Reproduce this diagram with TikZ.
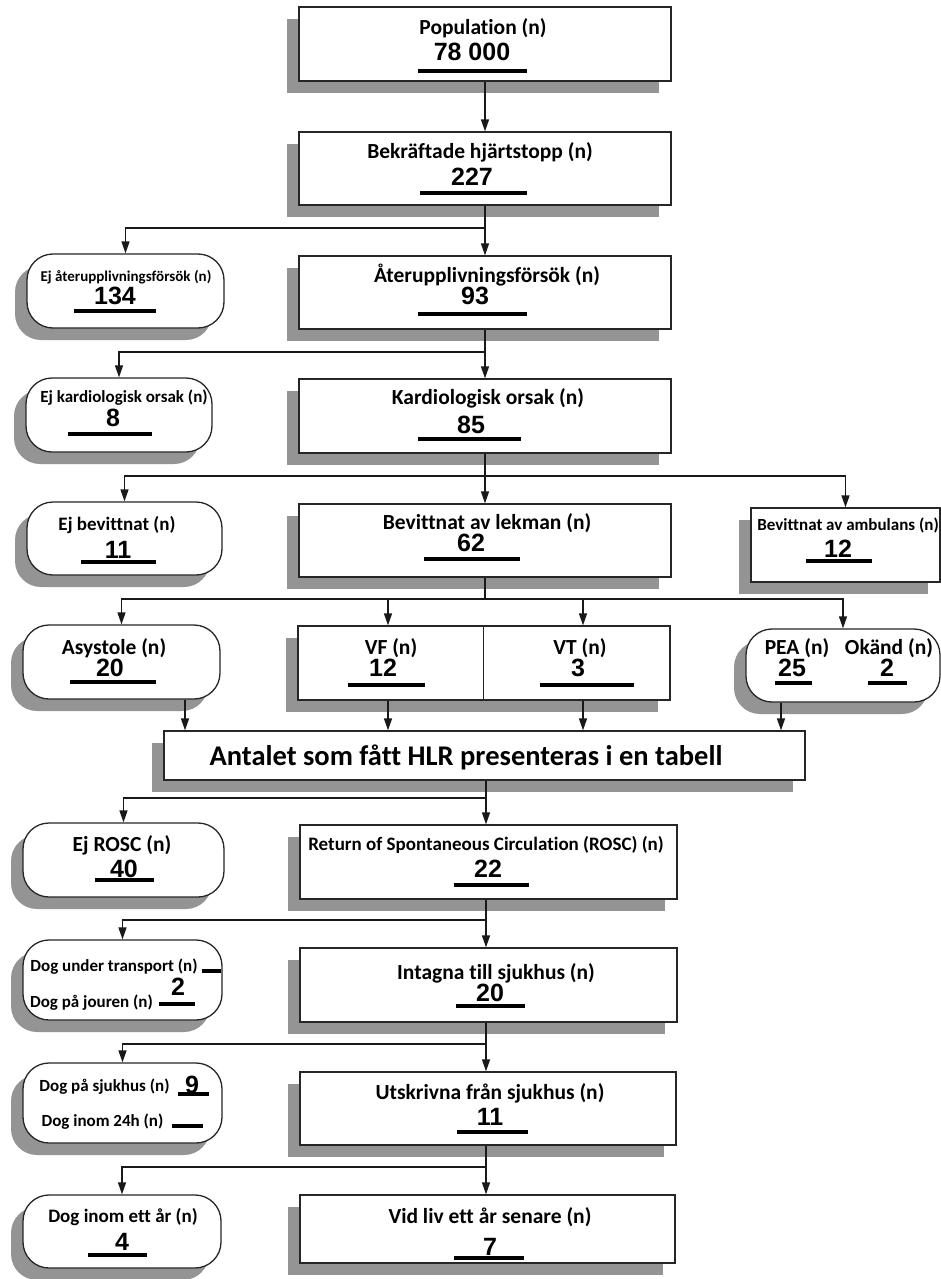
\documentclass[tikz,border=0pt]{standalone}
\usepackage{fontspec}
\setmainfont{Carlito}[Ligatures=NoCommon]
\newfontfamily\numfont{Liberation Sans}
\usetikzlibrary{arrows.meta,shadows}
\begin{document}
\begin{tikzpicture}[x=1pt,y=-1pt,
  shadowed/.style={drop shadow={shadow xshift=-12pt,shadow yshift=-12pt,fill=black!42,opacity=1}},
  sbox/.style={draw=black!85,line width=1.3pt,fill=white,shadowed,inner sep=0pt},
  rbox/.style={sbox,rounded corners=26pt},
  lab/.style={font=\fontsize{#1}{#1}\selectfont\bfseries,inner sep=0pt,text=black},
  lab/.default=21.5,
  num/.style={font=\numfont\fontsize{25}{25}\selectfont\bfseries,inner sep=0pt},
  uline/.style={line width=3.5pt},
  conn/.style={line width=1.4pt,black!90},
  arr/.style={conn,-{Triangle[length=12pt,width=8pt]}}
]
\fill[white] (0,0) rectangle (941,1279);
\useasboundingbox (0,0) rectangle (941,1279);

% ---------- boxes ----------
\node[sbox,minimum width=372pt,minimum height=74pt] (pop) at (485,44) {};
\node[sbox,minimum width=372pt,minimum height=73pt] (bek) at (485,168.5) {};
\node[rbox,minimum width=197pt,minimum height=74pt] (ejater) at (125.5,291) {};
\node[sbox,minimum width=372pt,minimum height=73pt] (ater) at (485,292.5) {};
\node[rbox,minimum width=186pt,minimum height=74pt] (ejkard) at (119,415) {};
\node[sbox,minimum width=372pt,minimum height=74pt] (kard) at (485,416) {};
\node[rbox,minimum width=195pt,minimum height=73pt] (ejbev) at (124.5,538.5) {};
\node[sbox,minimum width=372pt,minimum height=73pt] (lekman) at (485,540.5) {};
\node[sbox,minimum width=189pt,minimum height=74pt] (amb) at (845.5,545) {};
\node[rbox,minimum width=197pt,minimum height=74pt] (asys) at (121.5,662) {};
\node[sbox,minimum width=372pt,minimum height=74pt] (vfvt) at (484,663) {};
\node[rbox,minimum width=194pt,minimum height=73pt] (pea) at (843,665.5) {};
\node[sbox,minimum width=641pt,minimum height=49pt] (antal) at (484.5,755.5) {};
\node[rbox,minimum width=201pt,minimum height=74pt] (ejrosc) at (123.5,860) {};
\node[sbox,minimum width=377pt,minimum height=74pt] (rosc) at (488.5,862) {};
\node[rbox,minimum width=199pt,minimum height=80pt] (dogtr) at (122.5,980) {};
\node[sbox,minimum width=377pt,minimum height=74pt] (intag) at (488.5,985) {};
\node[rbox,minimum width=199pt,minimum height=80pt] (dogsj) at (122.5,1103) {};
\node[sbox,minimum width=376pt,minimum height=73pt] (utskr) at (488,1108.5) {};
\node[rbox,minimum width=198pt,minimum height=73pt] (doget) at (122,1231.5) {};
\node[sbox,minimum width=375pt,minimum height=68pt] (vidliv) at (487.5,1229) {};
\draw[line width=1pt,black!85] (vfvt.north -| 483,0) -- (vfvt.south -| 483,0);

% ---------- texts ----------
\node[lab] (popL) at (483,28) {Population (n)};
\node[num] (popN) at (472,52) {78 000};
\draw[uline] (418,71) -- (527,71);

\node[lab] (bekL) at (480,152) {Bekräftade hjärtstopp (n)};
\node[num] (bekN) at (472,177) {227};
\draw[uline] (420,193) -- (527,193);

\node[lab=15] (ejaterL) at (126,277) {Ej återupplivningsförsök (n)};
\node[num] (ejaterN) at (115,296) {134};
\draw[uline] (74,311) -- (156,311);

\node[lab] (aterL) at (487,275) {Återupplivningsförsök (n)};
\node[num] (aterN) at (475,296) {93};
\draw[uline] (418,314) -- (527,314);

\node[lab=17] (ejkardL) at (124,398) {Ej kardiologisk orsak (n)};
\node[num] (ejkardN) at (113,418) {8};
\draw[uline] (68,434) -- (152,434);

\node[lab] (kardL) at (488,398) {Kardiologisk orsak (n)};
\node[num] (kardN) at (471,425) {85};
\draw[uline] (418,439) -- (521,439);

\node[lab=19] (ejbevL) at (117,525) {Ej bevittnat (n)};
\node[num] (ejbevN) at (118,550) {11};
\draw[uline] (81,562) -- (156,562);

\node[lab] (lekmanL) at (487,523) {Bevittnat av lekman (n)};
\node[num] (lekmanN) at (471,543) {62};
\draw[uline] (424,559) -- (520,559);

\node[lab=17] (ambL) at (848,525) {Bevittnat av ambulans (n)};
\node[num] (ambN) at (838,549) {12};
\draw[uline] (806,561) -- (872,561);

\node[lab] (asysL) at (114,648) {Asystole (n)};
\node[num] (asysN) at (110,668) {20};
\draw[uline] (70,682) -- (156,682);

\node[lab] (vfL) at (391,648) {VF (n)};
\node[num] (vfN) at (383,668) {12};
\draw[uline] (348,685) -- (425,685);

\node[lab] (vtL) at (580,648) {VT (n)};
\node[num] (vtN) at (578,668) {3};
\draw[uline] (540,685) -- (634,685);

\node[lab] (peaL) at (797,648) {PEA (n)};
\node[num] (peaN) at (792,668) {25};
\draw[uline] (775,683) -- (812,683);
\node[lab] (okL) at (889,648) {Okänd (n)};
\node[num] (okN) at (887,668) {2};
\draw[uline] (868,683) -- (907,683);

\node[lab=28.5] (antalL) at (466,757) {Antalet som fått HLR presenteras i en tabell};

\node[lab] (ejroscL) at (122,845) {Ej ROSC (n)};
\node[num] (ejroscN) at (124,869) {40};
\draw[uline] (95,880) -- (154,880);

\node[lab=19] (roscL) at (486,845) {Return of Spontaneous Circulation (ROSC) (n)};
\node[num] (roscN) at (488,869) {22};
\draw[uline] (454,885) -- (529,885);

\node[lab=17] (dogtrL) at (114,967) {Dog under transport (n)};
\draw[uline] (202,971) -- (221,971);
\node[num] (dogpjN) at (178,987) {2};
\node[lab=17] (dogpjL) at (91.5,1003) {Dog på jouren (n)};
\draw[uline] (159,1004) -- (195,1004);

\node[lab] (intagL) at (496,973) {Intagna till sjukhus (n)};
\node[num] (intagN) at (490,993) {20};
\draw[uline] (456,1006) -- (525,1006);

\node[lab=17] (dogsjL) at (104.5,1087) {Dog på sjukhus (n)};
\node[num] (dogsjN) at (192,1085) {9};
\draw[uline] (178,1094) -- (209,1094);
\node[lab=17] (dog24L) at (102.5,1122) {Dog inom 24h (n)};
\draw[uline] (172,1126) -- (203,1126);

\node[lab] (utskrL) at (490,1093) {Utskrivna från sjukhus (n)};
\node[num] (utskrN) at (490,1117) {11};
\draw[uline] (457,1132) -- (528,1132);

\node[lab=19] (dogetL) at (123,1217) {Dog inom ett år (n)};
\node[num] (dogetN) at (122,1242) {4};
\draw[uline] (88,1255) -- (147,1255);

\node[lab] (vidlivL) at (490,1217) {Vid liv ett år senare (n)};
\node[num] (vidlivN) at (490,1247) {7};
\draw[uline] (454,1258) -- (524,1258);

% ---------- connectors ----------
\coordinate (j1) at (485,228);
\coordinate (j2) at (485,352);
\coordinate (j3) at (485,476);
\coordinate (j4) at (485,599);
\coordinate (j5) at (486,798);
\coordinate (j6) at (486,920);
\coordinate (j7) at (486,1044);
\coordinate (j8) at (486,1167);

\draw[arr] (pop.south) -- (bek.north);
\draw[conn] (bek.south) -- (j1);
\draw[arr] (j1) -- (ater.north);
\draw[arr] (j1) -| (ejater.north);

\draw[conn] (ater.south) -- (j2);
\draw[arr] (j2) -- (kard.north);
\draw[arr] (j2) -| (ejkard.north);

\draw[conn] (kard.south) -- (j3);
\draw[arr] (j3) -- (lekman.north);
\draw[arr] (j3) -| (ejbev.north);
\draw[arr] (j3) -| (amb.north);

\draw[conn] (lekman.south) -- (j4);
\draw[arr] (j4) -| (asys.north);
\draw[arr] (j4) -| (pea.north);
\draw[arr] (j4 -| 388,0) -- (vfvt.north -| 388,0);
\draw[arr] (j4 -| 583,0) -- (vfvt.north -| 583,0);

\draw[arr] (asys.south -| 185,0) -- (antal.north -| 185,0);
\draw[arr] (vfvt.south -| 388,0) -- (antal.north -| 388,0);
\draw[arr] (vfvt.south -| 583,0) -- (antal.north -| 583,0);
\draw[arr] (pea.south -| 781,0) -- (antal.north -| 781,0);

\draw[conn] (antal.south -| j5) -- (j5);
\draw[arr] (j5) -- (j5 |- rosc.north);
\draw[arr] (j5) -| (ejrosc.north);

\draw[conn] (rosc.south -| j6) -- (j6);
\draw[arr] (j6) -- (j6 |- intag.north);
\draw[arr] (j6) -| (dogtr.north);

\draw[conn] (intag.south -| j7) -- (j7);
\draw[arr] (j7) -- (j7 |- utskr.north);
\draw[arr] (j7) -| (dogsj.north);

\draw[conn] (utskr.south -| j8) -- (j8);
\draw[arr] (j8) -- (j8 |- vidliv.north);
\draw[arr] (j8) -| (doget.north);
\end{tikzpicture}
\end{document}
